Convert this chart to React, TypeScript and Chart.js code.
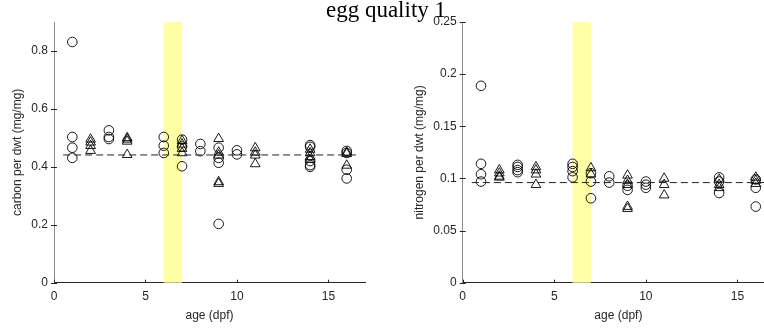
import React, { useEffect, useRef } from "react";
import { Chart, registerables } from "chart.js";
Chart.register(...registerables);

const titleText = "egg quality 1";
const xLabel = "age (dpf)";
const carbonLabel = "carbon per dwt (mg/mg)";
const nitrogenLabel = "nitrogen per dwt (mg/mg)";

const xTicks = [0, 5, 10, 15];
const carbonTicks = [0, 0.2, 0.4, 0.6, 0.8];
const nitrogenTicks = [0, 0.05, 0.1, 0.15, 0.2, 0.25];
const bandRange = [6, 7];
const meanAgeRange = [0.5, 16.5];
const carbonMean = 0.441;
const nitrogenMean = 0.096;

const carbonCircleAge = [1, 1, 1, 1, 3, 3, 3, 6, 6, 6, 7, 7, 7, 8, 8, 9, 9, 9, 9, 10, 10, 14, 14, 14, 14, 14, 16, 16, 16, 16];
const carbonCircleVal = [0.831, 0.503, 0.466, 0.431, 0.526, 0.503, 0.496, 0.503, 0.473, 0.448, 0.494, 0.47, 0.402, 0.479, 0.454, 0.466, 0.431, 0.414, 0.203, 0.457, 0.443, 0.475, 0.469, 0.42, 0.406, 0.4, 0.455, 0.448, 0.39, 0.36];
const carbonTriAge = [2, 2, 2, 2, 4, 4, 4, 4, 7, 7, 7, 7, 9, 9, 9, 9, 9, 11, 11, 11, 11, 14, 14, 14, 14, 16, 16, 16];
const carbonTriVal = [0.495, 0.485, 0.473, 0.456, 0.5, 0.495, 0.488, 0.442, 0.49, 0.478, 0.463, 0.448, 0.497, 0.45, 0.44, 0.348, 0.342, 0.465, 0.45, 0.44, 0.41, 0.46, 0.448, 0.435, 0.425, 0.45, 0.445, 0.405];

const nitrogenCircleAge = [1, 1, 1, 1, 3, 3, 3, 3, 6, 6, 6, 6, 7, 7, 7, 8, 8, 9, 9, 10, 10, 10, 14, 14, 14, 16, 16, 16];
const nitrogenCircleVal = [0.1888, 0.114, 0.104, 0.097, 0.113, 0.111, 0.108, 0.106, 0.114, 0.111, 0.107, 0.101, 0.105, 0.097, 0.081, 0.102, 0.096, 0.093, 0.089, 0.097, 0.094, 0.091, 0.101, 0.097, 0.086, 0.099, 0.091, 0.073];
const nitrogenTriAge = [2, 2, 2, 2, 4, 4, 4, 4, 7, 7, 9, 9, 9, 9, 9, 11, 11, 11, 14, 14, 14, 16, 16, 16];
const nitrogenTriVal = [0.108, 0.105, 0.102, 0.101, 0.111, 0.108, 0.104, 0.094, 0.11, 0.104, 0.103, 0.098, 0.094, 0.073, 0.071, 0.1, 0.094, 0.084, 0.099, 0.094, 0.091, 0.101, 0.098, 0.095];

const SANS = "'Liberation Sans', Arial, sans-serif";

type PanelProps = {
  width: number;
  yWidth: number;
  rightPad: number;
  xMax: number;
  yMax: number;
  yTicks: number[];
  yLabel: string;
  yLabelX: number;
  circleAge: number[];
  circleVal: number[];
  triAge: number[];
  triVal: number[];
  mean: number;
};

function toPoints(xs: number[], ys: number[]) {
  return xs.map((x, i) => ({ x, y: ys[i] }));
}

function Panel(p: PanelProps) {
  const ref = useRef<HTMLCanvasElement>(null);
  useEffect(() => {
    if (!ref.current) return;
    const decor = {
      id: "decor",
      beforeDatasetsDraw(chart: any) {
        const { ctx, chartArea, scales } = chart;
        const x0 = scales.x.getPixelForValue(bandRange[0]);
        const x1 = scales.x.getPixelForValue(bandRange[1]);
        ctx.save();
        ctx.fillStyle = "rgb(255,255,165)";
        ctx.fillRect(x0, chartArea.top, x1 - x0, chartArea.bottom - chartArea.top);
        ctx.restore();
      },
      afterDraw(chart: any) {
        const { ctx, chartArea, scales } = chart;
        ctx.save();
        ctx.strokeStyle = "#262626";
        ctx.lineWidth = 1;
        ctx.beginPath();
        xTicks.forEach((v) => {
          const px = Math.round(scales.x.getPixelForValue(v)) + 0.5;
          ctx.moveTo(px, chartArea.bottom);
          ctx.lineTo(px, chartArea.bottom - 3);
        });
        p.yTicks.forEach((v) => {
          const py = Math.round(scales.y.getPixelForValue(v)) + 0.5;
          ctx.moveTo(chartArea.left - 3, py);
          ctx.lineTo(chartArea.left + 3, py);
        });
        ctx.stroke();
        ctx.fillStyle = "#262626";
        ctx.font = `12px ${SANS}`;
        ctx.textAlign = "center";
        ctx.textBaseline = "middle";
        ctx.fillText(xLabel, scales.x.getPixelForValue(8.5), 316);
        ctx.translate(p.yLabelX, (chartArea.top + chartArea.bottom) / 2);
        ctx.rotate(-Math.PI / 2);
        ctx.fillText(p.yLabel, 0, 0);
        ctx.restore();
      },
    };
    const chart = new Chart(ref.current, {
      type: "scatter",
      data: {
        datasets: [
          {
            type: "line",
            data: [
              { x: meanAgeRange[0], y: p.mean },
              { x: meanAgeRange[1], y: p.mean },
            ],
            borderColor: "#222",
            borderWidth: 1,
            borderDash: [7, 4],
            pointRadius: 0,
            fill: false,
          } as any,
          {
            data: toPoints(p.circleAge, p.circleVal),
            pointStyle: "circle",
            pointRadius: 4.8,
            borderColor: "#000",
            borderWidth: 0.9,
            backgroundColor: "rgba(0,0,0,0)",
          },
          {
            data: toPoints(p.triAge, p.triVal),
            pointStyle: "triangle",
            pointRadius: 5.6,
            borderColor: "#000",
            borderWidth: 0.9,
            backgroundColor: "rgba(0,0,0,0)",
          },
        ],
      },
      options: {
        animation: false,
        responsive: false,
        devicePixelRatio: 1,
        layout: { autoPadding: false, padding: { top: 22, right: p.rightPad, left: 0, bottom: 0 } },
        plugins: { legend: { display: false }, tooltip: { enabled: false }, title: { display: false } },
        scales: {
          x: {
            type: "linear",
            min: 0,
            max: p.xMax,
            grid: { display: false, drawTicks: false },
            border: { display: true, color: "#262626", width: 1 },
            ticks: { color: "#262626", font: { family: SANS, size: 12 }, padding: 7, maxRotation: 0, callback: (v: any) => String(v) },
            afterBuildTicks: (a: any) => {
              a.ticks = xTicks.map((v) => ({ value: v }));
            },
            afterFit: (s: any) => {
              s.height = 49.3;
            },
          },
          y: {
            type: "linear",
            min: 0,
            max: p.yMax,
            grid: { display: false, drawTicks: false },
            border: { display: true, color: "#8a8a8a", width: 1 },
            ticks: { color: "#262626", font: { family: SANS, size: 12 }, padding: 6, callback: (v: any) => String(v) },
            afterBuildTicks: (a: any) => {
              a.ticks = p.yTicks.map((v) => ({ value: v }));
            },
            afterFit: (s: any) => {
              s.width = p.yWidth;
            },
          },
        },
      },
      plugins: [decor],
    });
    return () => chart.destroy();
  }, []);
  return <canvas ref={ref} width={p.width} height={332} style={{ display: "block", width: p.width, height: 332 }} />;
}

export default function App() {
  return (
    <div style={{ position: "fixed", left: 0, top: 0, width: 764, height: 332, background: "#fff", overflow: "hidden" }}>
      <div style={{ position: "absolute", left: 0, top: 0 }}>
        <Panel
          width={380}
          yWidth={54}
          rightPad={15}
          xMax={17}
          yMax={0.9}
          yTicks={carbonTicks}
          yLabel={carbonLabel}
          yLabelX={18}
          circleAge={carbonCircleAge}
          circleVal={carbonCircleVal}
          triAge={carbonTriAge}
          triVal={carbonTriVal}
          mean={carbonMean}
        />
      </div>
      <div style={{ position: "absolute", left: 380, top: 0 }}>
        <Panel
          width={384}
          yWidth={82.7}
          rightPad={0}
          xMax={16.45}
          yMax={0.25}
          yTicks={nitrogenTicks}
          yLabel={nitrogenLabel}
          yLabelX={39.5}
          circleAge={nitrogenCircleAge}
          circleVal={nitrogenCircleVal}
          triAge={nitrogenTriAge}
          triVal={nitrogenTriVal}
          mean={nitrogenMean}
        />
      </div>
      <div
        style={{
          position: "absolute",
          left: 0,
          top: -1,
          width: 772,
          textAlign: "center",
          fontFamily: "'Liberation Serif', serif",
          fontSize: 23,
          lineHeight: "22px",
          color: "#000",
          whiteSpace: "nowrap",
        }}
      >
        {titleText}
      </div>
    </div>
  );
}
